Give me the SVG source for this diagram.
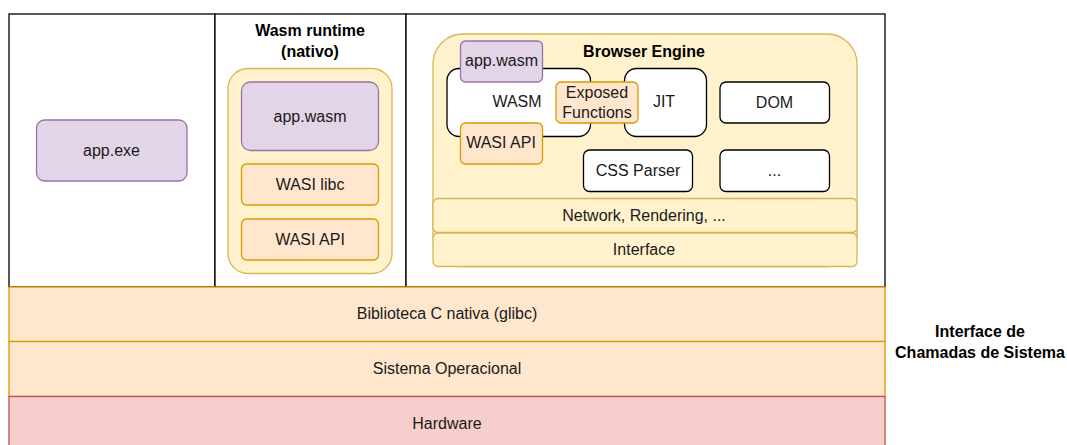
<svg xmlns="http://www.w3.org/2000/svg" width="1067" height="445" viewBox="0 0 1067 445">
<style>
text{font-family:"Liberation Sans",Arial,sans-serif;font-size:16px;fill:#1a1a1a;text-anchor:middle;dominant-baseline:central}
.b{font-weight:bold;fill:#000}
.panel{fill:#fff;stroke:#000;stroke-width:1.3}
.pur{fill:#e1d5e7;stroke:#9673a6;stroke-width:1.3}
.org{fill:#ffe6cc;stroke:#d79b00;stroke-width:1.3}
.yel{fill:#fff2cc;stroke:#d6b656;stroke-width:1.3}
.red{fill:#f8cecc;stroke:#b85450;stroke-width:1.3}
.wht{fill:#fff;stroke:#000;stroke-width:1.3}
</style>
<rect width="1067" height="445" fill="#fff"/>
<g id="panel-native"><rect class="panel" x="9" y="14" width="206" height="273"/></g>
<g id="panel-runtime"><rect class="panel" x="215" y="14" width="191" height="273"/>
<text class="b" x="310" y="30">Wasm runtime</text><text class="b" x="310" y="51">(nativo)</text></g>
<g id="panel-browser"><rect class="panel" x="406" y="14" width="479" height="273"/></g>
<g id="app-exe"><rect class="pur" x="36.5" y="120" width="150.5" height="61" rx="8"/><text x="111.5" y="150.5">app.exe</text></g>
<g id="runtime-container"><rect class="yel" x="228" y="68.5" width="164" height="205" rx="20"/></g>
<g id="runtime-app-wasm"><rect class="pur" x="241.5" y="82" width="137" height="68.5" rx="9"/><text x="310" y="116">app.wasm</text></g>
<g id="wasi-libc"><rect class="org" x="241.5" y="164" width="137" height="41" rx="5"/><text x="310" y="184.5">WASI libc</text></g>
<g id="runtime-wasi-api"><rect class="org" x="241.5" y="219" width="137" height="41" rx="5"/><text x="310" y="239.5">WASI API</text></g>
<g id="browser-engine"><rect class="yel" x="433" y="34" width="424" height="232.5" rx="30"/><text class="b" x="644" y="51">Browser Engine</text></g>
<g id="wasm"><rect class="wht" x="447" y="68.5" width="143.5" height="68" rx="12"/><text x="517" y="101">WASM</text></g>
<g id="jit"><rect class="wht" x="624.5" y="68.5" width="82" height="68" rx="12"/><text x="664" y="101">JIT</text></g>
<g id="dom"><rect class="wht" x="720" y="82" width="109.5" height="41" rx="6"/><text x="774.5" y="102">DOM</text></g>
<g id="css-parser"><rect class="wht" x="583.5" y="150" width="109" height="41.5" rx="6"/><text x="638" y="170.5">CSS Parser</text></g>
<g id="etc"><rect class="wht" x="720" y="150" width="109.5" height="41.5" rx="6"/><text x="774.5" y="170.5">...</text></g>
<g id="browser-app-wasm"><rect class="pur" x="460.5" y="41" width="82" height="41" rx="5"/><text x="501.5" y="60">app.wasm</text></g>
<g id="browser-wasi-api"><rect class="org" x="460.5" y="123" width="82" height="41" rx="5"/><text x="501" y="142.5">WASI API</text></g>
<g id="exposed-functions"><rect class="org" x="556" y="82" width="82" height="41" rx="5"/><text x="597" y="92.5">Exposed</text><text x="597" y="112">Functions</text></g>
<g id="network"><rect class="yel" x="433" y="198.5" width="424" height="34" rx="5"/><text x="644" y="215.5">Network, Rendering, ...</text></g>
<g id="interface"><rect class="yel" x="433" y="233" width="424" height="33.5" rx="5"/><text x="644" y="249.5">Interface</text></g>
<g id="glibc"><rect class="org" x="9" y="287" width="876" height="54.5"/><text x="447" y="313.5">Biblioteca C nativa (glibc)</text></g>
<g id="os"><rect class="org" x="9" y="341.5" width="876" height="55"/><text x="447" y="368">Sistema Operacional</text></g>
<g id="hardware"><rect class="red" x="9" y="396.5" width="876" height="55"/><text x="447" y="423">Hardware</text></g>
<g id="syscall-label"><text class="b" x="980" y="331">Interface de</text><text class="b" x="980" y="352">Chamadas de Sistema</text></g>
<g id="connectors"></g>
</svg>
